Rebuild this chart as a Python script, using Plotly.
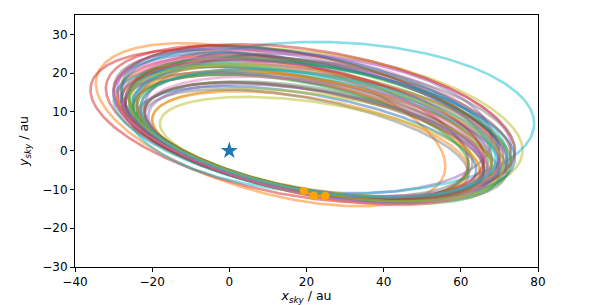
import numpy as np
import plotly.graph_objects as go

# Orbit ellipse parameters (sky plane, au): left/right x extent, y at left/right extremity, offset at data
orbit_x_left = [-27, -34.6, -28, -36, -22, -25, -24, -30, -25, -26,
                -24, -26, -22, -29, -25, -28, -26, -23, -20, -27,
                -30, -20, -24, -32, -27, -23, -28, -22, -18, -25,
                -26, -29, -25, -30, -21, -28, -22, -27, -24, -30,
                -28, -24, -26, -27, -29, -22, -30, -24, -26, -23]
orbit_x_right = [68, 56, 68, 62, 68, 66, 73, 66, 76, 79,
                 64, 70, 70, 71, 70, 67, 70, 63, 68, 70,
                 72, 62, 67, 70, 66, 72, 68, 62, 65, 72,
                 74, 65, 62, 74, 66, 73, 70, 72, 70, 68,
                 70, 68, 73, 66, 70, 66, 67, 74, 71, 69]
orbit_y_left = [12, 17.4, 16, 15.7, 11, 11, 13, 16, 14, 10,
                9, 13, 10, 14, 12, 13, 14, 9, 8, 13,
                15, 8, 11, 16, 12, 11, 14, 9, 7, 12,
                13, 14, 11, 15, 9, 13, 10, 12, 12, 13,
                15, 12, 14, 13, 16, 10, 15, 12, 13, 11]
orbit_y_right = [-3, -4, -2, -3, 3, -4, 1, -4, 0, 7,
                 -5, -3, -6, -2, -2, -5, 0, -3, -4, -4,
                 -3, -5, -3, -2, -5, -2, -3, -6, -5, -1,
                 -2, -6, -4, 0, -4, -1, -3, -5, -2, -4,
                 -1, -4, -3, -2, -3, -5, -5, 0, -4, -2]
orbit_offset = [0.0, -0.4, 0.0, 0.0, 0.5, 0.2, 0.3, 0.0, 0.0, 0.0,
                0.2, 0.2, -0.5, 0.0, 0.2, -0.2, 0.3, 0.4, 0.5, 0.0,
                0.0, 0.3, 0.2, 0.0, 0.1, 0.3, 0.1, 0.3, 0.6, 0.2,
                0.1, 0.0, 0.2, 0.0, 0.4, 0.0, 0.3, 0.0, 0.2, 0.1,
                0.1, 0.3, 0.0, 0.2, 0.0, 0.4, 0.0, 0.2, 0.1, 0.3]

# Observed astrometry (au)
obs_x = [19.3, 21.9, 24.9]
obs_y = [-10.4, -11.6, -11.6]

star_x = [0]
star_y = [0]

x_ticks = [-40, -20, 0, 20, 40, 60, 80]
y_ticks = [-30, -20, -10, 0, 10, 20, 30]

tab10 = ["#1f77b4", "#ff7f0e", "#2ca02c", "#d62728", "#9467bd",
         "#8c564b", "#e377c2", "#7f7f7f", "#bcbd22", "#17becf"]

def fmt(v):
    return ("\u2212" + str(abs(v))) if v < 0 else str(v)

fig = go.Figure()
t = np.linspace(0, 2 * np.pi, 400)
for i in range(len(orbit_x_left)):
    cx = (orbit_x_left[i] + orbit_x_right[i]) / 2
    ux = (orbit_x_right[i] - orbit_x_left[i]) / 2
    cy = (orbit_y_left[i] + orbit_y_right[i]) / 2
    uy = (orbit_y_right[i] - orbit_y_left[i]) / 2
    h = cy + 11 - orbit_offset[i]
    xs = cx + ux * np.cos(t)
    ys = cy + uy * np.cos(t) + h * np.sin(t)
    fig.add_trace(go.Scatter(x=xs, y=ys, mode="lines",
                             line=dict(color=tab10[i % 10], width=2.6),
                             opacity=0.5, hoverinfo="skip", showlegend=False))

fig.add_trace(go.Scatter(x=star_x, y=star_y, mode="markers",
                         marker=dict(symbol="star", size=13, color="#1f77b4",
                                     line=dict(width=0)),
                         showlegend=False))
fig.add_trace(go.Scatter(x=obs_x, y=obs_y, mode="lines+markers",
                         line=dict(color="orange", width=1.5),
                         marker=dict(size=8, color="orange"),
                         showlegend=False))

axis_common = dict(showgrid=False, zeroline=False, showline=True, mirror=True,
                   linecolor="black", linewidth=1, ticks="outside", ticklen=4,
                   tickcolor="black", automargin=False,
                   tickfont=dict(family="DejaVu Sans", size=12, color="black"))

# page body adds an 8 px margin, so the figure is 8 px smaller and margins shifted
fig.update_layout(
    width=590, height=297,
    margin=dict(l=67, r=60, t=7, b=38),
    paper_bgcolor="white", plot_bgcolor="white",
    xaxis=dict(range=[-40, 80], tickvals=x_ticks, ticktext=[fmt(v) for v in x_ticks],
               title=dict(text="<i>x</i><sub><i>sky</i></sub> / au", standoff=2,
                          font=dict(family="DejaVu Sans", size=12.5, color="black")),
               **axis_common),
    yaxis=dict(range=[-30, 35], tickvals=y_ticks, ticktext=[fmt(v) for v in y_ticks],
               title=dict(text="<i>y</i><sub><i>sky</i></sub> / au", standoff=10,
                          font=dict(family="DejaVu Sans", size=12.5, color="black")),
               **axis_common),
)

fig.write_html("out.html")
